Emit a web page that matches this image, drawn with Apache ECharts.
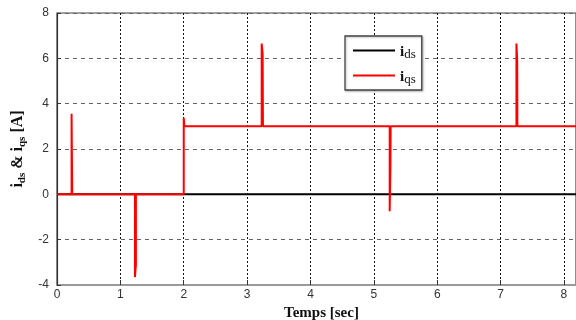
<!DOCTYPE html>
<html><head><meta charset="utf-8">
<script src="https://cdn.jsdelivr.net/npm/echarts@6/dist/echarts.min.js"></script>
<style>html,body{margin:0;padding:0;background:#fff}#c{width:576px;height:320px}</style>
</head><body><div id="c"></div>
<script>
// time (s) and current (A) samples
const idsTime = [0, 8.19];
const idsValues = [0, 0];
const iqsTime = [0, 0.23, 0.23, 0.24, 0.24, 1.23, 1.23, 1.245, 1.245, 2.0, 2.0, 2.01, 3.23, 3.23, 3.245, 3.25, 5.25, 5.25, 5.262, 5.265, 7.25, 7.25, 7.262, 7.265, 8.19];
const iqsValues = [0, 0, 3.55, 3.55, 0, 0, -3.65, -3.1, 0, 0, 3.38, 3.0, 3.0, 6.65, 6.2, 3.0, 3.0, -0.75, 1.3, 3.0, 3.0, 6.65, 5.9, 3.0, 3.0];
const xTicks = [0,1,2,3,4,5,6,7,8];
const yTicks = [-4,-2,0,2,4,6,8];

const zip = (a,b) => a.map((v,i)=>[v,b[i]]);
const chart = echarts.init(document.getElementById('c'), null, {renderer:'canvas'});
const serif = 'Liberation Serif';
chart.setOption({
  animation:false,
  backgroundColor:'#fff',
  grid:{left:57,right:0,top:13,bottom:35,show:true,borderColor:'#444',borderWidth:1.2,outerBoundsMode:'none',containLabel:false},
  legend:{
    left:345, top:36, orient:'vertical', width:79, height:51,
    backgroundColor:'#fff', borderColor:'#444', borderWidth:1.3,
    padding:[4,6,4,8], itemGap:4, itemWidth:42, itemHeight:2, icon:'rect',
    shadowColor:'rgba(0,0,0,0.25)', shadowBlur:2, shadowOffsetX:1, shadowOffsetY:1,
    data:['ids','iqs'],
    formatter: n => n==='ids' ? '{i|i}{s|ds}' : '{i|i}{s|qs}',
    textStyle:{color:'#111', fontFamily:serif, rich:{
      i:{fontSize:15,fontFamily:serif,fontWeight:'bold',color:'#111',verticalAlign:'bottom',lineHeight:18},
      s:{fontSize:13,fontFamily:serif,color:'#111',padding:[8,0,0,0],lineHeight:18}
    }}
  },
  xAxis:{type:'value',min:0,max:8.19,interval:1,
    name:'Temps [sec]',nameLocation:'middle',nameGap:14,
    nameTextStyle:{fontFamily:serif,fontWeight:'bold',fontSize:15,color:'#111',padding:[0,0,0,10]},
    axisLine:{show:true,onZero:false,lineStyle:{color:'#999',width:2}},
    axisTick:{show:true,inside:true,length:5,lineStyle:{color:'#333'}},
    axisLabel:{color:'#333',fontSize:12,fontFamily:'Liberation Sans',margin:4,showMaxLabel:false,
      formatter:v=> xTicks.includes(v)? String(v):''},
    splitLine:{show:true,lineStyle:{color:'#111',type:[2,2],width:1}}
  },
  yAxis:{type:'value',min:-4,max:8,interval:2,
    name:'{b|i}{s|ds}{b| & i}{s|qs}{b| [A]}',nameLocation:'middle',nameRotate:90,nameGap:29,
    nameTextStyle:{fontFamily:serif,fontWeight:'bold',fontSize:15,color:'#111',rich:{
      b:{fontFamily:serif,fontWeight:'bold',fontSize:16,color:'#111',lineHeight:20},
      s:{fontFamily:serif,fontWeight:'bold',fontSize:11,color:'#111',padding:[9,0,0,0],lineHeight:20}
    }},
    axisLine:{show:true,onZero:false,lineStyle:{color:'#333',width:1.2}},
    axisTick:{show:true,inside:true,length:4,lineStyle:{color:'#333'}},
    axisLabel:{color:'#333',fontSize:12,fontFamily:'Liberation Sans',margin:8,
      formatter:v=> yTicks.includes(v)? String(v):''},
    splitLine:{show:true,lineStyle:{color:'#666',type:[4,4],width:1}}
  },
  series:[
    {name:'ids',type:'line',data:zip(idsTime,idsValues),showSymbol:false,
      lineStyle:{color:'#000',width:2},itemStyle:{color:'#000'},z:2},
    {name:'iqs',type:'line',data:zip(iqsTime,iqsValues),showSymbol:false,
      lineStyle:{color:'#ff0000',width:2},itemStyle:{color:'#ff0000'},z:3}
  ]
});
</script></body></html>
